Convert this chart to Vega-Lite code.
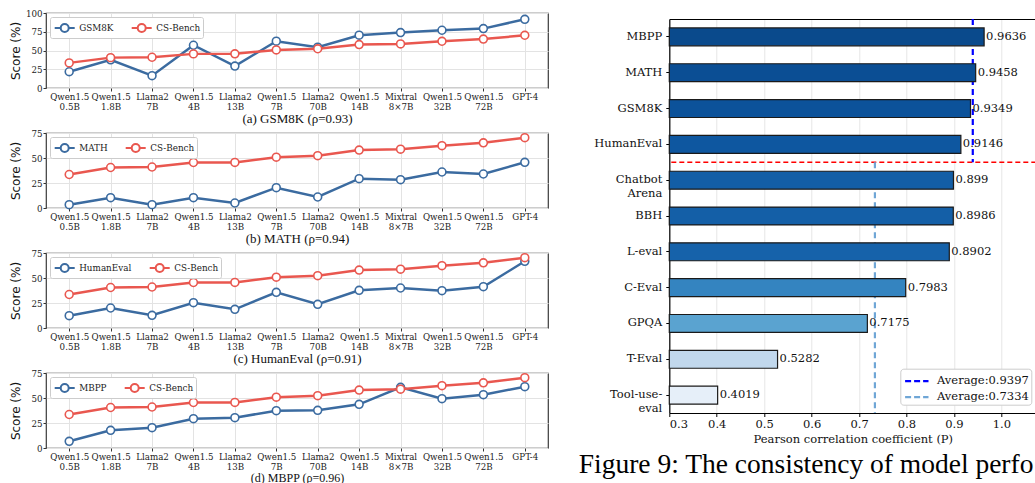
{
  "$schema": "https://vega.github.io/schema/vega-lite/v6.json",
  "background": "white",
  "padding": {"left": 8, "top": 8, "right": 0, "bottom": 0},
  "datasets": {
    "scores": [
      {"model": "Qwen1.5 0.5B", "bench": "CS-Bench", "score": 33.5},
      {"model": "Qwen1.5 1.8B", "bench": "CS-Bench", "score": 40.5},
      {"model": "Llama2 7B", "bench": "CS-Bench", "score": 41.0},
      {"model": "Qwen1.5 4B", "bench": "CS-Bench", "score": 45.5},
      {"model": "Llama2 13B", "bench": "CS-Bench", "score": 45.6},
      {"model": "Qwen1.5 7B", "bench": "CS-Bench", "score": 50.8},
      {"model": "Llama2 70B", "bench": "CS-Bench", "score": 52.3},
      {"model": "Qwen1.5 14B", "bench": "CS-Bench", "score": 57.9},
      {"model": "Mixtral 8×7B", "bench": "CS-Bench", "score": 58.8},
      {"model": "Qwen1.5 32B", "bench": "CS-Bench", "score": 62.3},
      {"model": "Qwen1.5 72B", "bench": "CS-Bench", "score": 65.2},
      {"model": "GPT-4", "bench": "CS-Bench", "score": 70.3},
      {"model": "Qwen1.5 0.5B", "bench": "GSM8K", "score": 21.7},
      {"model": "Qwen1.5 1.8B", "bench": "GSM8K", "score": 37.6},
      {"model": "Llama2 7B", "bench": "GSM8K", "score": 16.4},
      {"model": "Qwen1.5 4B", "bench": "GSM8K", "score": 57.0},
      {"model": "Llama2 13B", "bench": "GSM8K", "score": 29.2},
      {"model": "Qwen1.5 7B", "bench": "GSM8K", "score": 62.4},
      {"model": "Llama2 70B", "bench": "GSM8K", "score": 54.4},
      {"model": "Qwen1.5 14B", "bench": "GSM8K", "score": 70.4},
      {"model": "Mixtral 8×7B", "bench": "GSM8K", "score": 73.9},
      {"model": "Qwen1.5 32B", "bench": "GSM8K", "score": 77.0},
      {"model": "Qwen1.5 72B", "bench": "GSM8K", "score": 79.2},
      {"model": "GPT-4", "bench": "GSM8K", "score": 91.6},
      {"model": "Qwen1.5 0.5B", "bench": "MATH", "score": 3.3},
      {"model": "Qwen1.5 1.8B", "bench": "MATH", "score": 10.3},
      {"model": "Llama2 7B", "bench": "MATH", "score": 3.3},
      {"model": "Qwen1.5 4B", "bench": "MATH", "score": 10.3},
      {"model": "Llama2 13B", "bench": "MATH", "score": 5.0},
      {"model": "Qwen1.5 7B", "bench": "MATH", "score": 20.3},
      {"model": "Llama2 70B", "bench": "MATH", "score": 11.0},
      {"model": "Qwen1.5 14B", "bench": "MATH", "score": 29.3},
      {"model": "Mixtral 8×7B", "bench": "MATH", "score": 28.3},
      {"model": "Qwen1.5 32B", "bench": "MATH", "score": 36.0},
      {"model": "Qwen1.5 72B", "bench": "MATH", "score": 34.0},
      {"model": "GPT-4", "bench": "MATH", "score": 45.7},
      {"model": "Qwen1.5 0.5B", "bench": "HumanEval", "score": 12.3},
      {"model": "Qwen1.5 1.8B", "bench": "HumanEval", "score": 20.0},
      {"model": "Llama2 7B", "bench": "HumanEval", "score": 12.7},
      {"model": "Qwen1.5 4B", "bench": "HumanEval", "score": 25.3},
      {"model": "Llama2 13B", "bench": "HumanEval", "score": 18.7},
      {"model": "Qwen1.5 7B", "bench": "HumanEval", "score": 35.7},
      {"model": "Llama2 70B", "bench": "HumanEval", "score": 23.7},
      {"model": "Qwen1.5 14B", "bench": "HumanEval", "score": 37.7},
      {"model": "Mixtral 8×7B", "bench": "HumanEval", "score": 40.0},
      {"model": "Qwen1.5 32B", "bench": "HumanEval", "score": 37.3},
      {"model": "Qwen1.5 72B", "bench": "HumanEval", "score": 41.3},
      {"model": "GPT-4", "bench": "HumanEval", "score": 66.7},
      {"model": "Qwen1.5 0.5B", "bench": "MBPP", "score": 6.7},
      {"model": "Qwen1.5 1.8B", "bench": "MBPP", "score": 17.7},
      {"model": "Llama2 7B", "bench": "MBPP", "score": 20.3},
      {"model": "Qwen1.5 4B", "bench": "MBPP", "score": 29.3},
      {"model": "Llama2 13B", "bench": "MBPP", "score": 30.3},
      {"model": "Qwen1.5 7B", "bench": "MBPP", "score": 37.3},
      {"model": "Llama2 70B", "bench": "MBPP", "score": 37.7},
      {"model": "Qwen1.5 14B", "bench": "MBPP", "score": 43.7},
      {"model": "Mixtral 8×7B", "bench": "MBPP", "score": 60.7},
      {"model": "Qwen1.5 32B", "bench": "MBPP", "score": 49.3},
      {"model": "Qwen1.5 72B", "bench": "MBPP", "score": 53.3},
      {"model": "GPT-4", "bench": "MBPP", "score": 61.3}
    ],
    "corr": [
      {"bench": "MBPP", "r": 0.9636},
      {"bench": "MATH", "r": 0.9458},
      {"bench": "GSM8K", "r": 0.9349},
      {"bench": "HumanEval", "r": 0.9146},
      {"bench": "Chatbot Arena", "r": 0.899},
      {"bench": "BBH", "r": 0.8986},
      {"bench": "L-eval", "r": 0.8902},
      {"bench": "C-Eval", "r": 0.7983},
      {"bench": "GPQA", "r": 0.7175},
      {"bench": "T-Eval", "r": 0.5282},
      {"bench": "Tool-use-eval", "r": 0.4019}
    ],
    "avg": [
      {"label": "Average:0.9397", "v": 0.9397, "from": "MBPP", "to": "HumanEval"},
      {"label": "Average:0.7334", "v": 0.7334, "from": "Chatbot Arena", "to": "Tool-use-eval"}
    ],
    "split": [{"at": "HumanEval"}]
  },
  "config": {
    "view": {"stroke": "#3a3a3a", "strokeWidth": 1.2},
    "axis": {"labelColor": "#222222", "tickColor": "#333333", "domainColor": "#333333", "gridColor": "#e3e3e3", "gridWidth": 1, "titleColor": "#111111", "titleFontWeight": "normal"},
    "legend": {"titleFontWeight": "normal"}
  },
  "hconcat": [
    {
      "vconcat": [
        {
          "width": 502, "height": 75,
          "data": {"name": "scores"},
          "encoding": {
            "x": {"field": "model", "type": "nominal", "sort": ["Qwen1.5 0.5B","Qwen1.5 1.8B","Llama2 7B","Qwen1.5 4B","Llama2 13B","Qwen1.5 7B","Llama2 70B","Qwen1.5 14B","Mixtral 8×7B","Qwen1.5 32B","Qwen1.5 72B","GPT-4"], "scale": {"type": "point", "padding": 0.56},
              "axis": {"title": "(a) GSM8K (ρ=0.93)", "labelExpr": "split(datum.value, ' ')", "labelAngle": 0, "grid": true, "domain": false, "tickSize": 3, "labelPadding": 1.3, "labelFont": "DejaVu Serif", "labelFontSize": 8.7, "labelLineHeight": 10.7, "labelBaseline": "top", "titleFont": "Liberation Serif", "titleFontSize": 13, "titlePadding": 1}},
            "y": {"field": "score", "type": "quantitative", "scale": {"domain": [0, 100]},
              "axis": {"values": [0, 25, 50, 75, 100], "title": "Score (%)", "grid": true, "domain": false, "tickSize": 3, "labelPadding": 1, "labelFont": "DejaVu Serif", "labelFontSize": 8.7, "titleFont": "DejaVu Sans", "titleFontSize": 12, "titlePadding": 3}},
            "color": {"field": "bench", "type": "nominal", "scale": {"domain": ["GSM8K", "CS-Bench"], "range": ["#3b6ba0", "#e9574f"]},
              "legend": {"title": null, "orient": "top-left", "offset": 4, "direction": "horizontal", "padding": 2, "columnPadding": 13, "symbolOffset": 3.7, "labelOffset": 5.5, "labelFont": "DejaVu Serif", "labelFontSize": 8.8, "labelColor": "#222222", "fillColor": "white", "strokeColor": "#cccccc", "cornerRadius": 2, "symbolSize": 256, "symbolStrokeWidth": 2, "symbolFillColor": "white", "symbolType": "M-1.25,0L-0.5,0M0.5,0L1.25,0M0.5,0A0.5,0.5,0,1,1,-0.5,0A0.5,0.5,0,1,1,0.5,0Z", "encode": {"symbols": {"update": {"fill": {"value": "white"}, "strokeWidth": {"value": 2}}}}}}
          },
          "layer": [
            {"transform": [{"filter": "datum.bench == 'GSM8K'"}], "mark": {"type": "line", "strokeWidth": 2.5, "point": {"filled": false, "fill": "white", "size": 62, "strokeWidth": 1.6}}},
            {"transform": [{"filter": "datum.bench == 'CS-Bench'"}], "mark": {"type": "line", "strokeWidth": 2.5, "point": {"filled": false, "fill": "white", "size": 62, "strokeWidth": 1.6}}}
          ]
        },
        {
          "width": 502, "height": 75,
          "data": {"name": "scores"},
          "encoding": {
            "x": {"field": "model", "type": "nominal", "sort": ["Qwen1.5 0.5B","Qwen1.5 1.8B","Llama2 7B","Qwen1.5 4B","Llama2 13B","Qwen1.5 7B","Llama2 70B","Qwen1.5 14B","Mixtral 8×7B","Qwen1.5 32B","Qwen1.5 72B","GPT-4"], "scale": {"type": "point", "padding": 0.56},
              "axis": {"title": "(b) MATH (ρ=0.94)", "labelExpr": "split(datum.value, ' ')", "labelAngle": 0, "grid": true, "domain": false, "tickSize": 3, "labelPadding": 1.3, "labelFont": "DejaVu Serif", "labelFontSize": 8.7, "labelLineHeight": 10.7, "labelBaseline": "top", "titleFont": "Liberation Serif", "titleFontSize": 13, "titlePadding": 1}},
            "y": {"field": "score", "type": "quantitative", "scale": {"domain": [0, 75]},
              "axis": {"values": [0, 25, 50, 75], "title": "Score (%)", "grid": true, "domain": false, "tickSize": 3, "labelPadding": 1, "labelFont": "DejaVu Serif", "labelFontSize": 8.7, "titleFont": "DejaVu Sans", "titleFontSize": 12, "titlePadding": 8.5}},
            "color": {"field": "bench", "type": "nominal", "scale": {"domain": ["MATH", "CS-Bench"], "range": ["#3b6ba0", "#e9574f"]},
              "legend": {"title": null, "orient": "top-left", "offset": 4, "direction": "horizontal", "padding": 2, "columnPadding": 13, "symbolOffset": 3.7, "labelOffset": 5.5, "labelFont": "DejaVu Serif", "labelFontSize": 8.8, "labelColor": "#222222", "fillColor": "white", "strokeColor": "#cccccc", "cornerRadius": 2, "symbolSize": 256, "symbolStrokeWidth": 2, "symbolFillColor": "white", "symbolType": "M-1.25,0L-0.5,0M0.5,0L1.25,0M0.5,0A0.5,0.5,0,1,1,-0.5,0A0.5,0.5,0,1,1,0.5,0Z", "encode": {"symbols": {"update": {"fill": {"value": "white"}, "strokeWidth": {"value": 2}}}}}}
          },
          "layer": [
            {"transform": [{"filter": "datum.bench == 'MATH'"}], "mark": {"type": "line", "strokeWidth": 2.5, "point": {"filled": false, "fill": "white", "size": 62, "strokeWidth": 1.6}}},
            {"transform": [{"filter": "datum.bench == 'CS-Bench'"}], "mark": {"type": "line", "strokeWidth": 2.5, "point": {"filled": false, "fill": "white", "size": 62, "strokeWidth": 1.6}}}
          ]
        },
        {
          "width": 502, "height": 75,
          "data": {"name": "scores"},
          "encoding": {
            "x": {"field": "model", "type": "nominal", "sort": ["Qwen1.5 0.5B","Qwen1.5 1.8B","Llama2 7B","Qwen1.5 4B","Llama2 13B","Qwen1.5 7B","Llama2 70B","Qwen1.5 14B","Mixtral 8×7B","Qwen1.5 32B","Qwen1.5 72B","GPT-4"], "scale": {"type": "point", "padding": 0.56},
              "axis": {"title": "(c) HumanEval (ρ=0.91)", "labelExpr": "split(datum.value, ' ')", "labelAngle": 0, "grid": true, "domain": false, "tickSize": 3, "labelPadding": 1.3, "labelFont": "DejaVu Serif", "labelFontSize": 8.7, "labelLineHeight": 10.7, "labelBaseline": "top", "titleFont": "Liberation Serif", "titleFontSize": 13, "titlePadding": 1}},
            "y": {"field": "score", "type": "quantitative", "scale": {"domain": [0, 75]},
              "axis": {"values": [0, 25, 50, 75], "title": "Score (%)", "grid": true, "domain": false, "tickSize": 3, "labelPadding": 1, "labelFont": "DejaVu Serif", "labelFontSize": 8.7, "titleFont": "DejaVu Sans", "titleFontSize": 12, "titlePadding": 8.5}},
            "color": {"field": "bench", "type": "nominal", "scale": {"domain": ["HumanEval", "CS-Bench"], "range": ["#3b6ba0", "#e9574f"]},
              "legend": {"title": null, "orient": "top-left", "offset": 4, "direction": "horizontal", "padding": 2, "columnPadding": 13, "symbolOffset": 3.7, "labelOffset": 5.5, "labelFont": "DejaVu Serif", "labelFontSize": 8.8, "labelColor": "#222222", "fillColor": "white", "strokeColor": "#cccccc", "cornerRadius": 2, "symbolSize": 256, "symbolStrokeWidth": 2, "symbolFillColor": "white", "symbolType": "M-1.25,0L-0.5,0M0.5,0L1.25,0M0.5,0A0.5,0.5,0,1,1,-0.5,0A0.5,0.5,0,1,1,0.5,0Z", "encode": {"symbols": {"update": {"fill": {"value": "white"}, "strokeWidth": {"value": 2}}}}}}
          },
          "layer": [
            {"transform": [{"filter": "datum.bench == 'HumanEval'"}], "mark": {"type": "line", "strokeWidth": 2.5, "point": {"filled": false, "fill": "white", "size": 62, "strokeWidth": 1.6}}},
            {"transform": [{"filter": "datum.bench == 'CS-Bench'"}], "mark": {"type": "line", "strokeWidth": 2.5, "point": {"filled": false, "fill": "white", "size": 62, "strokeWidth": 1.6}}}
          ]
        },
        {
          "width": 502, "height": 75,
          "data": {"name": "scores"},
          "encoding": {
            "x": {"field": "model", "type": "nominal", "sort": ["Qwen1.5 0.5B","Qwen1.5 1.8B","Llama2 7B","Qwen1.5 4B","Llama2 13B","Qwen1.5 7B","Llama2 70B","Qwen1.5 14B","Mixtral 8×7B","Qwen1.5 32B","Qwen1.5 72B","GPT-4"], "scale": {"type": "point", "padding": 0.56},
              "axis": {"title": "(d) MBPP (ρ=0.96)", "labelExpr": "split(datum.value, ' ')", "labelAngle": 0, "grid": true, "domain": false, "tickSize": 3, "labelPadding": 1.3, "labelFont": "DejaVu Serif", "labelFontSize": 8.7, "labelLineHeight": 10.7, "labelBaseline": "top", "titleFont": "Liberation Serif", "titleFontSize": 12, "titlePadding": 1}},
            "y": {"field": "score", "type": "quantitative", "scale": {"domain": [0, 75]},
              "axis": {"values": [0, 25, 50, 75], "title": "Score (%)", "grid": true, "domain": false, "tickSize": 3, "labelPadding": 1, "labelFont": "DejaVu Serif", "labelFontSize": 8.7, "titleFont": "DejaVu Sans", "titleFontSize": 12, "titlePadding": 8.5}},
            "color": {"field": "bench", "type": "nominal", "scale": {"domain": ["MBPP", "CS-Bench"], "range": ["#3b6ba0", "#e9574f"]},
              "legend": {"title": null, "orient": "top-left", "offset": 4, "direction": "horizontal", "padding": 2, "columnPadding": 13, "symbolOffset": 3.7, "labelOffset": 5.5, "labelFont": "DejaVu Serif", "labelFontSize": 8.8, "labelColor": "#222222", "fillColor": "white", "strokeColor": "#cccccc", "cornerRadius": 2, "symbolSize": 256, "symbolStrokeWidth": 2, "symbolFillColor": "white", "symbolType": "M-1.25,0L-0.5,0M0.5,0L1.25,0M0.5,0A0.5,0.5,0,1,1,-0.5,0A0.5,0.5,0,1,1,0.5,0Z", "encode": {"symbols": {"update": {"fill": {"value": "white"}, "strokeWidth": {"value": 2}}}}}}
          },
          "layer": [
            {"transform": [{"filter": "datum.bench == 'MBPP'"}], "mark": {"type": "line", "strokeWidth": 2.5, "point": {"filled": false, "fill": "white", "size": 62, "strokeWidth": 1.6}}},
            {"transform": [{"filter": "datum.bench == 'CS-Bench'"}], "mark": {"type": "line", "strokeWidth": 2.5, "point": {"filled": false, "fill": "white", "size": 62, "strokeWidth": 1.6}}}
          ]
        }
      ],
      "spacing": 45,
      "bounds": "flush",
      "resolve": {"scale": {"color": "independent"}, "legend": {"color": "independent"}}
    },
    {
      "vconcat": [
        {
          "width": 367, "height": 1,
          "data": {"values": []},
          "mark": {"type": "point"},
          "view": {"stroke": null}
        },
        {
          "width": 367, "height": 394,
          "view": {"stroke": null},
          "title": {"text": "Figure 9: The consistency of model perfo", "orient": "bottom", "anchor": "start", "frame": "bounds", "font": "Liberation Serif", "fontSize": 27.5, "fontWeight": "normal", "color": "black", "offset": 6, "dx": -15},
          "layer": [
            {
              "data": {"name": "split"},
              "mark": {"type": "rule", "color": "#ff0000", "strokeDash": [5, 3], "strokeWidth": 1.5},
              "encoding": {
                "y": {"field": "at", "type": "nominal", "bandPosition": 1, "axis": null}
              }
            },
            {
              "data": {"name": "avg"},
              "mark": {"type": "rule", "strokeDash": [6, 4], "strokeWidth": 2.2},
              "encoding": {
                "x": {"field": "v", "type": "quantitative", "axis": {"orient": "top", "labels": false, "ticks": false, "grid": false, "title": null, "domain": true, "domainColor": "black", "domainWidth": 1.2}},
                "y": {"field": "from", "type": "nominal", "bandPosition": 0, "axis": null},
                "y2": {"field": "to", "bandPosition": 1},
                "stroke": {"field": "label", "type": "nominal", "scale": {"domain": ["Average:0.9397", "Average:0.7334"], "range": ["#0000ff", "#6fa6d6"]},
                  "legend": {"title": null, "orient": "none", "legendX": 231, "legendY": 349.7, "padding": 2, "rowPadding": 0, "symbolOffset": 4, "labelOffset": 9.7, "symbolType": "M-1.3,0L1.3,0", "symbolSize": 324, "symbolDash": [6, 3], "symbolStrokeWidth": 2.2, "labelFont": "DejaVu Serif", "labelFontSize": 11.5, "labelColor": "#111111", "fillColor": "white", "strokeColor": "#cccccc", "cornerRadius": 3}}
              }
            },
            {
              "data": {"name": "corr"},
              "mark": {"type": "bar", "height": {"band": 0.5}, "stroke": "#1a1a1a", "strokeWidth": 1.2},
              "encoding": {
                "x": {"field": "r", "type": "quantitative", "scale": {"domain": [0.3, 1.0736], "zero": false, "nice": false},
                  "axis": {"values": [0.3, 0.4, 0.5, 0.6, 0.7, 0.8, 0.9, 1.0], "format": ".1f", "title": "Pearson correlation coefficient (P)", "grid": true, "gridColor": "#e6e6e6", "domain": true, "domainColor": "black", "domainWidth": 1.2, "tickColor": "black", "tickSize": 3.5, "labelPadding": 2, "labelFont": "DejaVu Serif", "labelFontSize": 11.5, "labelColor": "#111111", "titleFont": "DejaVu Serif", "titleFontSize": 11.5, "titlePadding": 3}},
                "x2": {"datum": 0.3},
                "y": {"field": "bench", "type": "nominal", "scale": {"type": "band", "domain": ["MBPP","MATH","GSM8K","HumanEval","Chatbot Arena","BBH","L-eval","C-Eval","GPQA","T-Eval","Tool-use-eval"], "paddingInner": 0, "paddingOuter": 0},
                  "axis": {"title": null, "labelExpr": "datum.value == 'Tool-use-eval' ? ['Tool-use-', 'eval'] : split(datum.value, ' ')", "domain": true, "domainColor": "black", "domainWidth": 1.2, "tickColor": "black", "tickSize": 3.5, "labelPadding": 4, "labelFont": "DejaVu Serif", "labelFontSize": 11.5, "labelColor": "#111111", "labelLineHeight": 13.5, "grid": false}},
                "fill": {"field": "bench", "type": "nominal", "legend": null, "scale": {"domain": ["MBPP","MATH","GSM8K","HumanEval","Chatbot Arena","BBH","L-eval","C-Eval","GPQA","T-Eval","Tool-use-eval"], "range": ["#0a4a8c","#0b4e94","#0c529a","#0e57a0","#135ea6","#145fa7","#1662aa","#3484c0","#5aa3d0","#c1d8ed","#e6eff9"]}}
              }
            },
            {
              "data": {"name": "corr"},
              "mark": {"type": "text", "align": "left", "baseline": "middle", "dx": 2, "font": "DejaVu Serif", "fontSize": 11.5, "color": "#111111"},
              "encoding": {
                "x": {"field": "r", "type": "quantitative", "axis": null},
                "y": {"field": "bench", "type": "nominal", "axis": null},
                "text": {"field": "r", "type": "quantitative"}
              }
            }
          ],
          "resolve": {"axis": {"x": "independent", "y": "independent"}}
        }
      ],
      "spacing": 5,
      "bounds": "flush",
      "resolve": {"scale": {"fill": "independent", "stroke": "independent"}, "legend": {"fill": "independent", "stroke": "independent"}}
    }
  ],
  "spacing": 623.3,
  "bounds": "flush",
  "resolve": {"scale": {"color": "independent", "fill": "independent", "stroke": "independent"}, "legend": {"color": "independent", "fill": "independent", "stroke": "independent"}}
}
